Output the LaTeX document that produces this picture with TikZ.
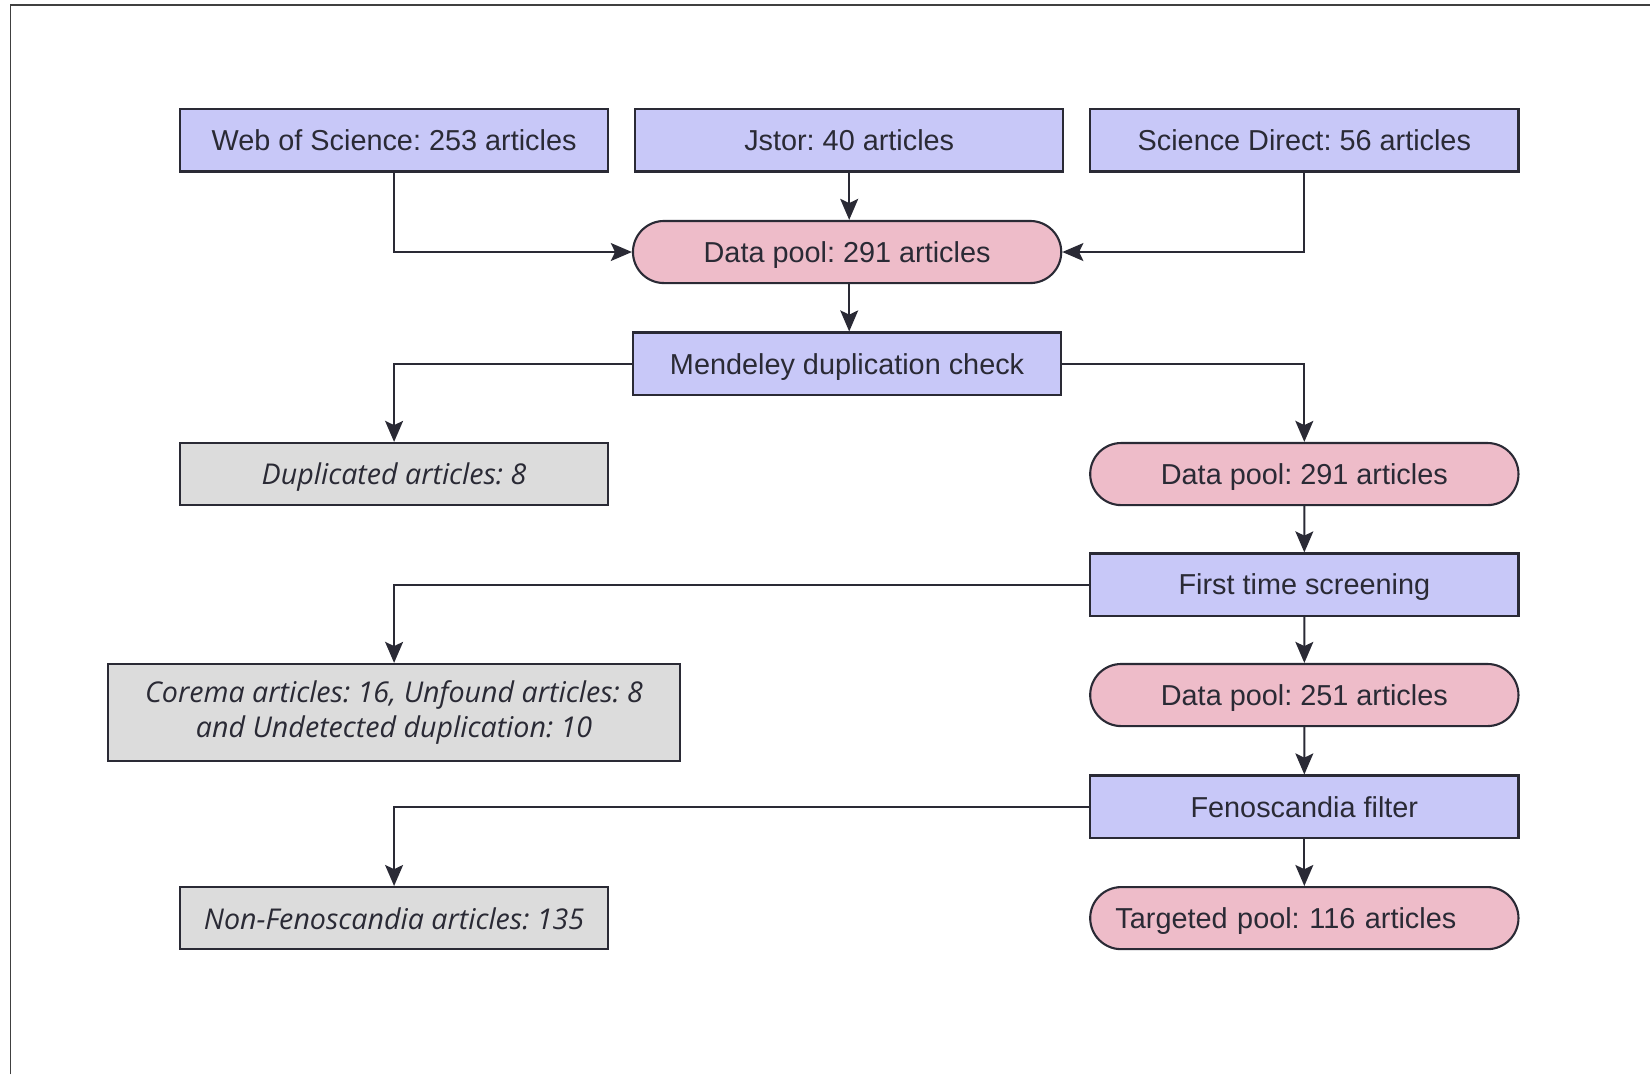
\documentclass[tikz,border=0pt]{standalone}
\usepackage{fontspec}
\setmainfont{Liberation Sans}
\newfontfamily\itfont{Open Sans}
\usetikzlibrary{shapes.misc,arrows.meta}
\definecolor{boxblue}{HTML}{C8C8F8}
\definecolor{boxpink}{HTML}{EEBCC9}
\definecolor{boxgray}{HTML}{DCDCDC}
\definecolor{edge}{HTML}{2A2A35}
\begin{document}
\frenchspacing
\begin{tikzpicture}[x=0.5pt,y=-0.5pt,
 base/.style={draw=edge, line width=1pt, minimum height=29.5pt, inner sep=0pt, text=edge, text depth=0pt, font=\fontsize{13.7}{16}\selectfont},
 bluebox/.style={base, rectangle, fill=boxblue, minimum width=203.5pt},
 poolbox/.style={base, rounded rectangle, fill=boxpink, minimum width=203.5pt},
 graybox/.style={base, rectangle, fill=boxgray, minimum width=203.5pt, align=center, font=\itfont\itshape\fontsize{13.6}{17}\selectfont},
 conn/.style={draw=edge, line width=1pt, -{Stealth[length=10pt,width=8.5pt,inset=2pt]}}
]
\useasboundingbox (0,0) rectangle (1568,1021);
\draw[black!75, line width=0.8pt] (10,1021) -- (10,5) -- (1568,5);

\node[bluebox] (wos) at (374.5,133.5) {Web of Science: 253 articles};
\node[bluebox] (jstor) at (807,133.5) {Jstor: 40 articles};
\node[bluebox] (sd) at (1239.5,133.5) {Science Direct: 56 articles};
\node[poolbox] (dp1) at (805,239.5) {Data pool: 291 articles};
\node[bluebox] (mend) at (805,345.5) {Mendeley duplication check};
\node[graybox] (dup) at (374.5,450.5) {Duplicated articles: 8};
\node[poolbox] (dp2) at (1239.5,450.5) {Data pool: 291 articles};
\node[bluebox] (fts) at (1239.5,555.5) {First time screening};
\node[graybox, minimum width=271.5pt, minimum height=46pt, text depth=] (corema) at (374.5,677) {Corema articles: 16, Unfound articles: 8\\and Undetected duplication: 10};
\node[poolbox] (dp3) at (1239.5,660.5) {Data pool: 251 articles};
\node[bluebox] (feno) at (1239.5,766.5) {Fenoscandia filter};
\node[graybox] (nonfeno) at (374.5,872.5) {Non-Fenoscandia articles: 135};
\node[poolbox, text width=179.5pt, align=left] (target) at (1239.5,872.5) {Targeted pool: 116 articles};

\draw[conn] (wos.south) |- (dp1.west);
\draw[conn] (jstor.south) -- (jstor.south |- dp1.north);
\draw[conn] (sd.south) |- (dp1.east);
\draw[conn] (dp1.south -| jstor.south) -- (mend.north -| jstor.south);
\draw[conn] (mend.west) -| (dup.north);
\draw[conn] (mend.east) -| (dp2.north);
\draw[conn] (dp2) -- (fts);
\draw[conn] (fts.west) -| (corema.north);
\draw[conn] (fts) -- (dp3);
\draw[conn] (dp3) -- (feno);
\draw[conn] (feno.west) -| (nonfeno.north);
\draw[conn] (feno) -- (target);
\end{tikzpicture}
\end{document}
